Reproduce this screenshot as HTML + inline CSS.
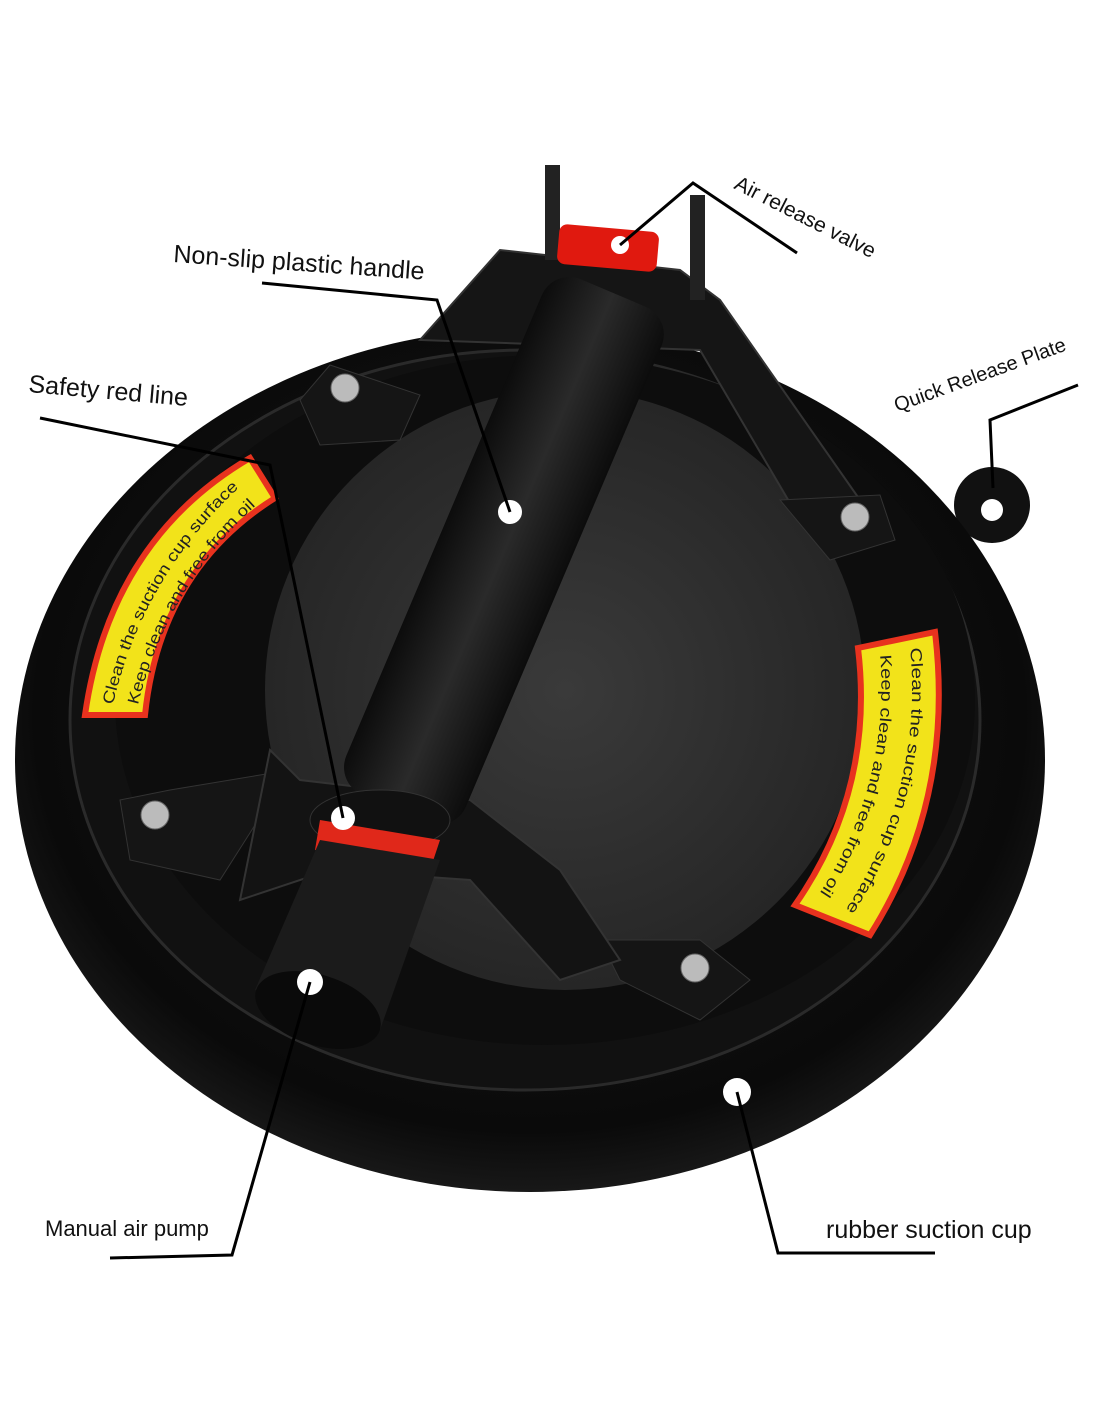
<!DOCTYPE html>
<html><head><meta charset="utf-8"><style>
html,body{margin:0;padding:0;background:#fff;}
svg{display:block;}
text{font-family:"Liberation Sans",sans-serif;}
</style></head><body>
<svg width="1100" height="1422" viewBox="0 0 1100 1422" xmlns="http://www.w3.org/2000/svg">
<defs>
<radialGradient id="cup" cx="0.5" cy="0.45" r="0.6">
<stop offset="0" stop-color="#1a1a1a"/><stop offset="0.8" stop-color="#0a0a0a"/><stop offset="1" stop-color="#222"/>
</radialGradient>
<radialGradient id="disc" cx="0.5" cy="0.5" r="0.5">
<stop offset="0" stop-color="#3a3a3a"/><stop offset="1" stop-color="#262626"/>
</radialGradient>
<linearGradient id="hdl" x1="0" y1="0" x2="1" y2="0">
<stop offset="0" stop-color="#0c0c0c"/><stop offset="0.5" stop-color="#2a2a2a"/><stop offset="1" stop-color="#0c0c0c"/>
</linearGradient>
<path id="l1" d="M113 705 A420 420 0 0 1 250 478"/>
<path id="l2" d="M138 705 A395 395 0 0 1 262 500"/>
<path id="r1" d="M910 648 A400 400 0 0 1 840 918"/>
<path id="r2" d="M880 655 A375 375 0 0 1 815 900"/>
</defs>
<!-- quick release tab -->
<circle cx="992" cy="505" r="38" fill="#111"/>
<!-- outer cup -->
<ellipse cx="530" cy="760" rx="515" ry="432" fill="url(#cup)"/>
<ellipse cx="525" cy="720" rx="455" ry="370" fill="#111" stroke="#2a2a2a" stroke-width="3"/>
<ellipse cx="545" cy="700" rx="430" ry="345" fill="#0d0d0d"/>
<!-- inner disc -->
<circle cx="565" cy="690" r="300" fill="url(#disc)"/>
<!-- yellow labels -->
<path d="M85 715 Q110 540 250 458 L275 498 Q160 570 145 715 Z" fill="#f2e31a" stroke="#e8321e" stroke-width="6"/>
<text font-size="16" fill="#222"><textPath href="#l1" textLength="255" lengthAdjust="spacingAndGlyphs">Clean the suction cup surface</textPath></text>
<text font-size="16" fill="#222"><textPath href="#l2" textLength="235" lengthAdjust="spacingAndGlyphs">Keep clean and free from oil</textPath></text>
<path d="M858 648 L935 632 Q955 800 870 935 L795 905 Q875 790 858 648 Z" fill="#f2e31a" stroke="#e8321e" stroke-width="6"/>
<text font-size="16" fill="#222"><textPath href="#r1" textLength="275" lengthAdjust="spacingAndGlyphs">Clean the suction cup surface</textPath></text>
<text font-size="16" fill="#222"><textPath href="#r2" textLength="250" lengthAdjust="spacingAndGlyphs">Keep clean and free from oil</textPath></text>
<!-- brackets -->
<path d="M420 340 L500 250 L680 270 L720 300 L860 500 L800 520 L700 350 Z" fill="#151515" stroke="#333" stroke-width="2"/>
<path d="M545 165 L560 165 L560 260 L545 260 Z" fill="#222"/>
<path d="M690 195 L705 195 L705 300 L690 300 Z" fill="#222"/>
<path d="M300 400 L330 365 L420 395 L400 440 L320 445 Z" fill="#151515" stroke="#333"/>
<path d="M120 800 L170 790 L290 770 L220 880 L130 860 Z" fill="#151515" stroke="#333"/>
<path d="M600 940 L700 940 L750 980 L700 1020 L620 980 Z" fill="#151515" stroke="#333"/>
<path d="M780 500 L880 495 L895 540 L830 560 Z" fill="#151515" stroke="#333"/>
<g fill="#bbb" stroke="#666"><circle cx="345" cy="388" r="14"/><circle cx="855" cy="517" r="14"/><circle cx="155" cy="815" r="14"/><circle cx="695" cy="968" r="14"/></g>
<rect x="558" y="228" width="100" height="40" rx="8" fill="#e0190f" transform="rotate(5 608 248)"/>
<path d="M270 750 L300 780 L470 800 L560 870 L620 960 L560 980 L470 880 L330 870 L240 900 Z" fill="#131313" stroke="#333" stroke-width="2"/>
<g transform="rotate(23 500 560)">
<rect x="435" y="270" width="130" height="560" rx="30" fill="url(#hdl)"/>
</g>
<ellipse cx="380" cy="820" rx="70" ry="30" fill="#111" stroke="#333"/>
<path d="M320 820 L440 840 L430 870 L315 850 Z" fill="#e0281a"/>
<path d="M320 840 L440 860 L380 1030 L255 990 Z" fill="#1b1b1b"/>
<ellipse cx="318" cy="1010" rx="65" ry="35" fill="#0a0a0a" transform="rotate(18 318 1010)"/>
<g fill="#fff"><circle cx="510" cy="512" r="12"/><circle cx="343" cy="818" r="12"/><circle cx="310" cy="982" r="13"/><circle cx="737" cy="1092" r="14"/><circle cx="992" cy="510" r="11"/><circle cx="620" cy="245" r="9"/></g>
<g fill="none" stroke="#000" stroke-width="3">
<polyline points="262,283 437,300 510,512"/>
<polyline points="40,418 270,465 343,818"/>
<polyline points="797,253 693,183 620,245"/>
<polyline points="1078,385 990,420 993,488"/>
<polyline points="110,1258 232,1255 310,982"/>
<polyline points="935,1253 778,1253 737,1092"/>
</g>
<text transform="translate(173,262) rotate(4)" font-size="25" fill="#111">Non-slip plastic handle</text>
<text transform="translate(28,392) rotate(5)" font-size="25" fill="#111">Safety red line</text>
<text transform="translate(733,188) rotate(27)" font-size="21" fill="#111">Air release valve</text>
<text transform="translate(897,412) rotate(-20)" font-size="20" fill="#111">Quick Release Plate</text>
<text x="45" y="1236" font-size="22" fill="#111">Manual air pump</text>
<text x="826" y="1238" font-size="25" fill="#111">rubber suction cup</text>
</svg>
</body></html>
